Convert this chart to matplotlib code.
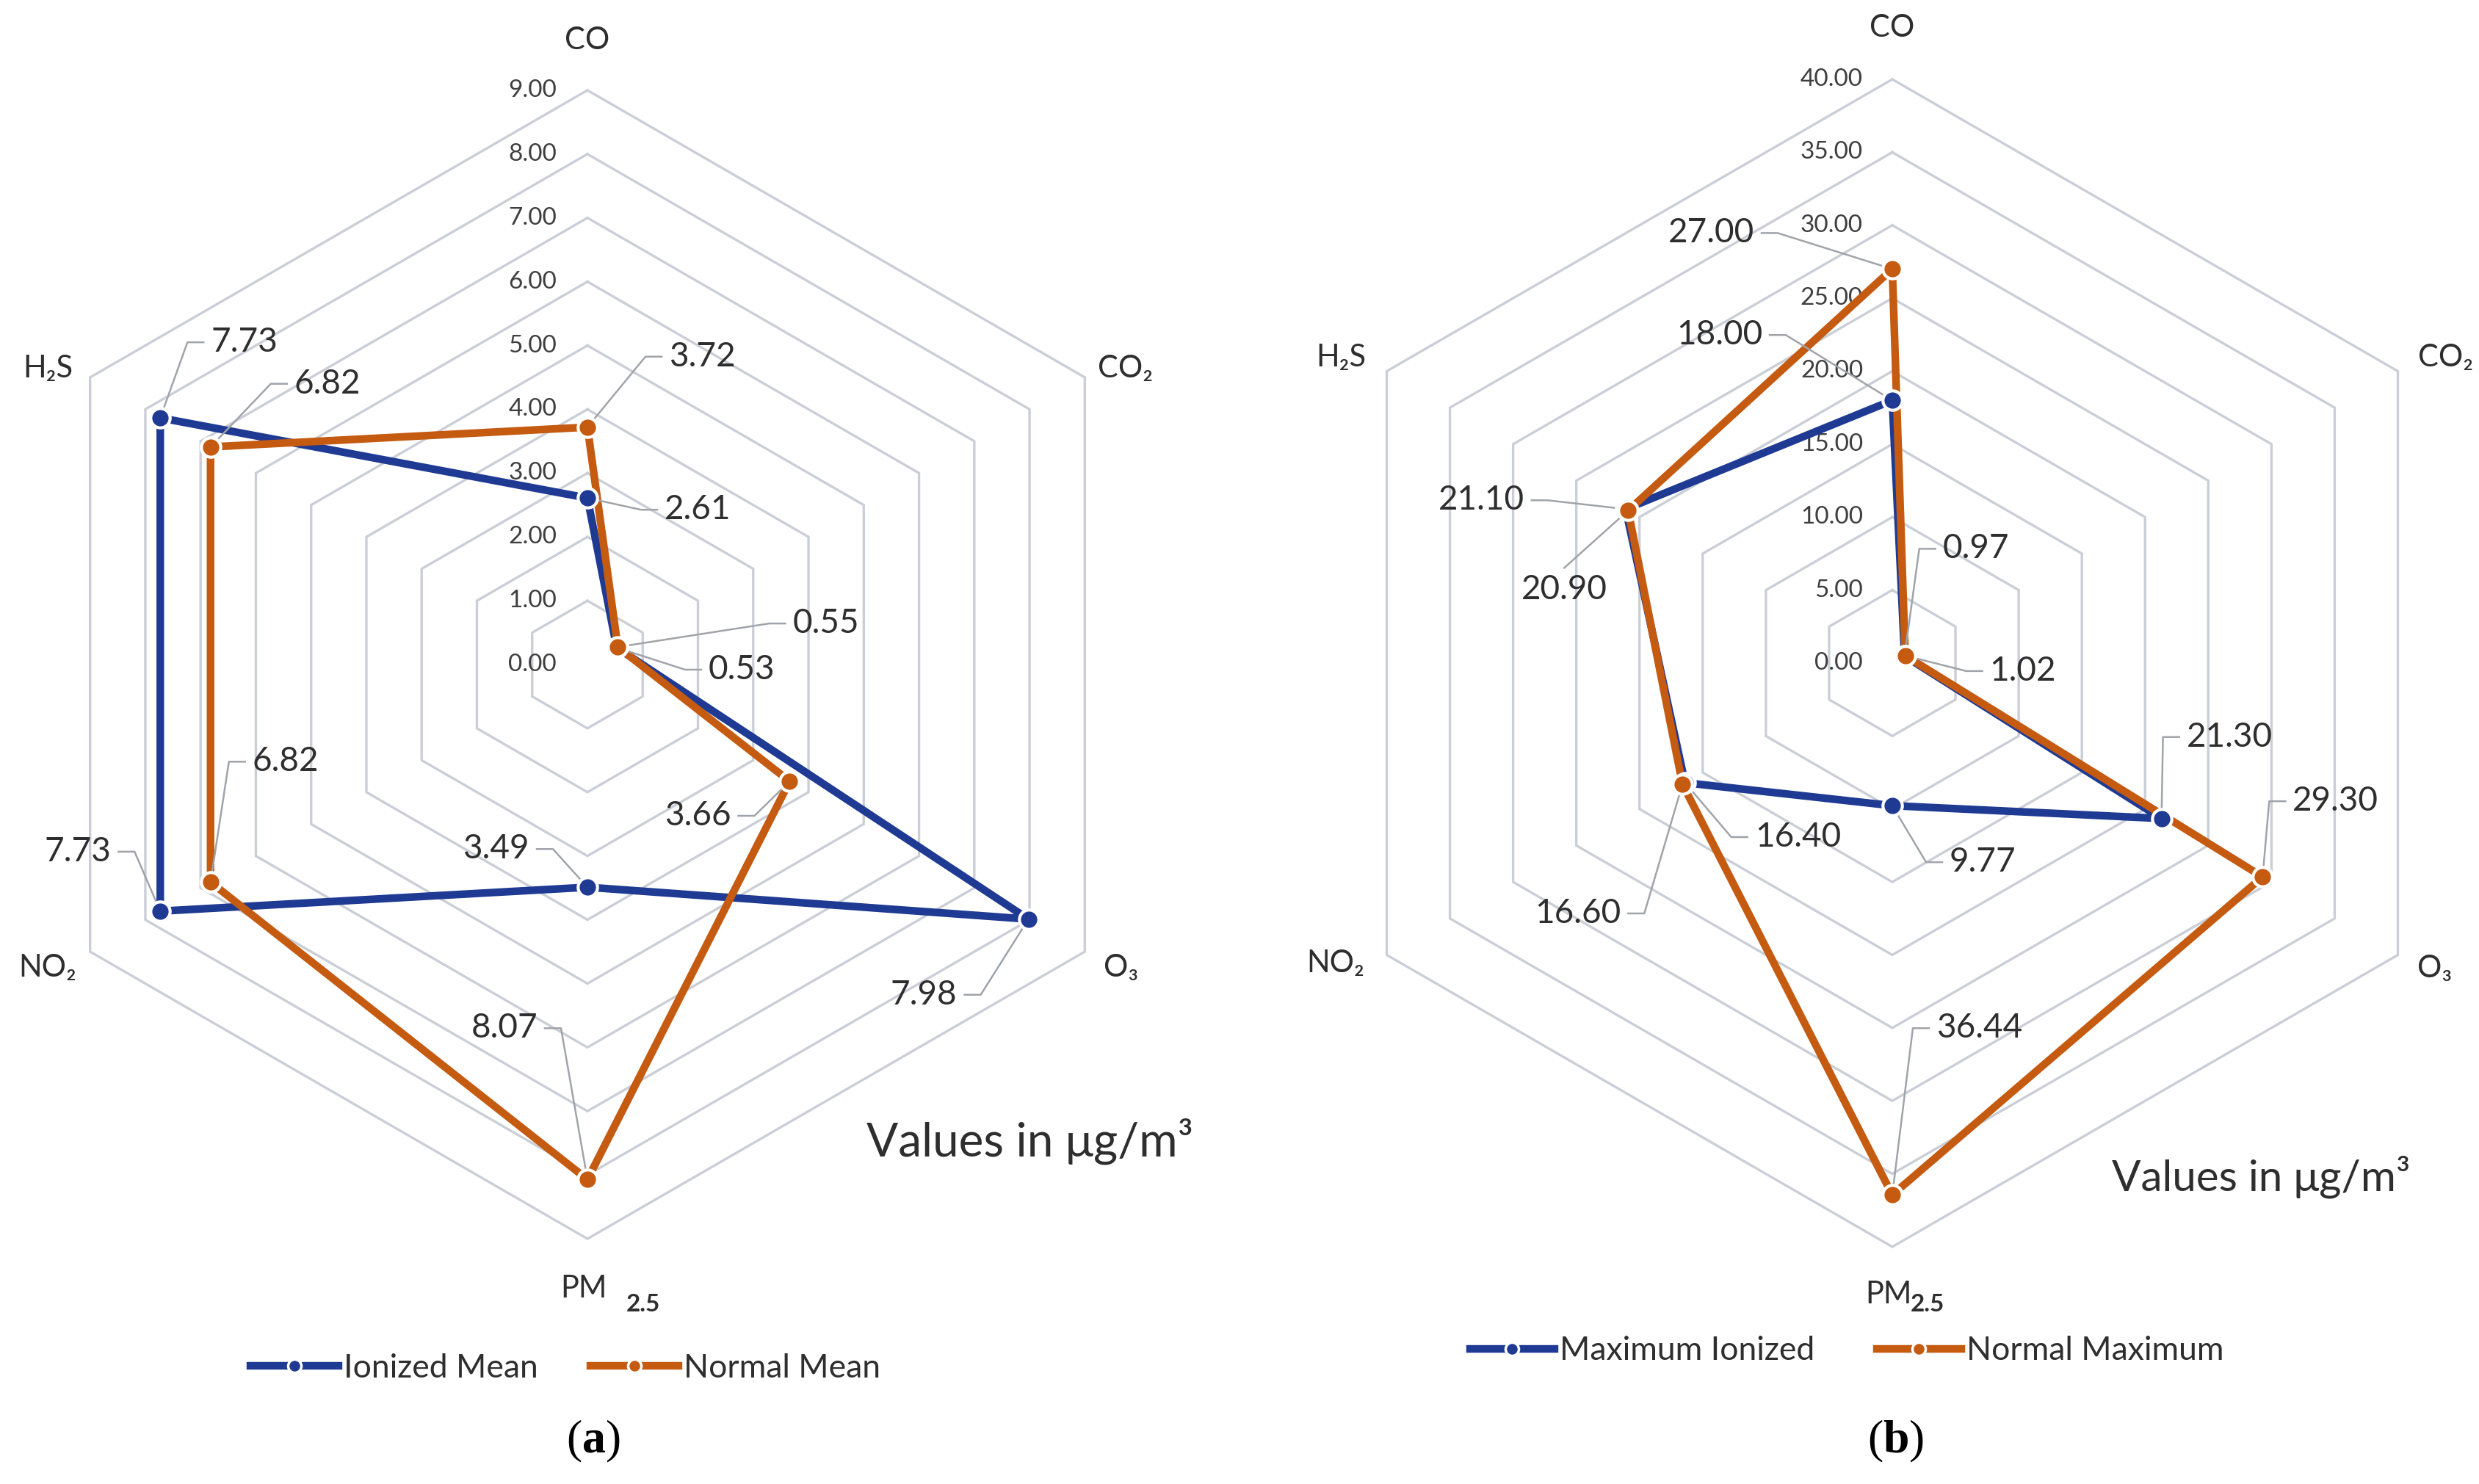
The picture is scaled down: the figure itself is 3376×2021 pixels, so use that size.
import numpy as np
import matplotlib
matplotlib.use("Agg")
import matplotlib.pyplot as plt
from matplotlib.lines import Line2D

# ---------------- data ----------------
categories = ["CO", "CO₂", "O₃", "PM", "NO₂", "H₂S"]   # clockwise from top
pm_sub = "2.5"
ticks_a = [0, 1, 2, 3, 4, 5, 6, 7, 8, 9]
ionized_mean = [2.61, 0.53, 7.98, 3.49, 7.73, 7.73]
normal_mean = [3.72, 0.55, 3.66, 8.07, 6.82, 6.82]
ticks_b = [0, 5, 10, 15, 20, 25, 30, 35, 40]
maximum_ionized = [18.00, 0.97, 21.30, 9.77, 16.40, 21.10]
normal_maximum = [27.00, 1.02, 29.30, 36.44, 16.60, 20.90]
legend_a = ["Ionized Mean", "Normal Mean"]
legend_b = ["Maximum Ionized", "Normal Maximum"]
unit_text = "Values in μg/m³"

# ---------------- style ----------------
W, H, DPI = 3376, 2021, 100
BLUE = "#1F3A93"
ORANGE = "#C55A11"
GRID = "#CACED6"
TXT = "#2E2E2E"
TICK = "#3F3F3F"
LEAD = "#A0A4AA"

plt.rcParams['font.family'] = ['Lato', 'DejaVu Sans']
plt.rcParams['mathtext.fontset'] = 'custom'
plt.rcParams['mathtext.rm'] = 'Liberation Serif'
plt.rcParams['mathtext.bf'] = 'Liberation Serif:bold'

fig = plt.figure(figsize=(W / DPI, H / DPI), dpi=DPI)
fig.patch.set_facecolor("white")

theta = np.arange(6) * np.pi / 3.0


def make_axes(x0, x1, cx, cy, unit):
    ax = fig.add_axes([x0 / W, 0, (x1 - x0) / W, 1])
    ax.set_xlim((x0 - cx) / unit, (x1 - cx) / unit)
    ax.set_ylim(-(H - cy) / unit, cy / unit)
    ax.axis('off')
    return ax


def draw_radar(ax, unit, ticks, series, colors, label_offsets, cat_offsets,
               pm_offsets, tick_dx):
    px = lambda p: p / unit
    # grid rings
    for t in ticks[1:]:
        xs = t * np.sin(np.append(theta, theta[0]))
        ys = t * np.cos(np.append(theta, theta[0]))
        ax.plot(xs, ys, color=GRID, lw=2.4, zorder=1, solid_joinstyle='miter')
    # tick labels
    for t in ticks:
        ax.text(px(tick_dx), t, f"{t:.2f}", ha='right', va='center',
                fontsize=24, color=TICK, zorder=2)
    # series
    for k, (vals, col) in enumerate(zip(series, colors)):
        v = np.array(vals)
        xs = v * np.sin(theta)
        ys = v * np.cos(theta)
        ax.plot(np.append(xs, xs[0]), np.append(ys, ys[0]), color=col, lw=7.5,
                solid_joinstyle='round', zorder=3 + k)
    for k, (vals, col) in enumerate(zip(series, colors)):
        v = np.array(vals)
        xs = v * np.sin(theta)
        ys = v * np.cos(theta)
        ax.plot(xs, ys, 'o', ms=19, mfc=col, mec='white', mew=3,
                zorder=10 + k, linestyle='none')
        # data labels with leader lines
        for i in range(6):
            dx, dy, ha = label_offsets[k][i]
            tx = xs[i] + px(dx)
            ty = ys[i] - px(dy)
            ax.text(tx, ty, f"{vals[i]:.2f}", ha=ha, va='center',
                    fontsize=33, color=TXT, zorder=12)
            if ha == 'left':
                ex, elx, ey = tx - px(10), tx - px(32), ty
            elif ha == 'right':
                ex, elx, ey = tx + px(10), tx + px(32), ty
            else:
                ex, elx, ey = tx, tx, ty + px(30)
            ax.plot([xs[i], elx, ex], [ys[i], ey, ey], color=LEAD, lw=1.8,
                    zorder=8)
    # category labels
    for i, name in enumerate(categories):
        if name == "PM":
            continue
        dx, dy = cat_offsets[i]
        ax.text(px(dx), -px(dy), name, ha='center', va='center',
                fontsize=30, color=TXT)
    (pmx, pmy), (sx, sy) = pm_offsets
    ax.text(px(pmx), -px(pmy), "PM", ha='right', va='center', fontsize=30,
            color=TXT)
    ax.text(px(sx), -px(sy), pm_sub, ha='left', va='center', fontsize=24,
            color=TXT, fontweight='bold')


# ---------------- left chart ----------------
cxa, cya, ua = 800, 905, 86.9
ax_a = make_axes(0, 1688, cxa, cya, ua)
offs_a = [
    [(105, 16, 'left'), (125, 30, 'left'), (-97, 103, 'right'),
     (-79, -52, 'right'), (-67, -81, 'right'), (69, -103, 'left')],
    [(111, -96, 'left'), (238, -32, 'left'), (-80, 47, 'right'),
     (-68, -206, 'right'), (57, -164, 'left'), (114, -86, 'left')],
]
cats_a = [(0, -850), (733, -403), (727, 413), (0, 850), (-735, 413), (-735, -403)]
draw_radar(ax_a, ua, ticks_a, [ionized_mean, normal_mean], [BLUE, ORANGE],
           offs_a, cats_a, ((27, 850), (53, 872)), -42)

# ---------------- right chart ----------------
cxb, cyb, ub = 2577, 903, 19.875
ax_b = make_axes(1688, 3376, cxb, cyb, ub)
offs_b = [
    [(-177, -89, 'right'), (52, -146, 'left'), (34, -111, 'left'),
     (78, 77, 'left'), (95, 74, 'left'), (-138, -12, 'right')],
    [(-188, -49, 'right'), (115, 21, 'left'), (41, -103, 'left'),
     (60, -227, 'left'), (-84, 176, 'right'), (-87, 108, 'center')],
]
cats_b = [(0, -865), (754, -416), (739, 416), (0, 860), (-758, 409), (-751, -416)]
draw_radar(ax_b, ub, ticks_b, [maximum_ionized, normal_maximum], [BLUE, ORANGE],
           offs_b, cats_b, ((27, 860), (25, 874)), -40)

# ---------------- unit texts ----------------
fig.text(1402 / W, 1 - 1554 / H, unit_text, ha='center', va='center',
         fontsize=46, color=TXT)
fig.text(3079 / W, 1 - 1603 / H, unit_text, ha='center', va='center',
         fontsize=42, color=TXT)

# ---------------- legends ----------------
def handles(colors):
    return [Line2D([], [], color=c, lw=7.5, marker='o', ms=13, mfc=c,
                   mec='white', mew=2.5) for c in colors]

fig.legend(handles([BLUE, ORANGE]), legend_a, loc='center',
           bbox_to_anchor=(770 / W, 1 - 1863 / H), ncol=2, frameon=False,
           fontsize=32, handlelength=2.7, handletextpad=0.15,
           columnspacing=1.6, labelcolor=TXT)
fig.legend(handles([BLUE, ORANGE]), legend_b, loc='center',
           bbox_to_anchor=(2515 / W, 1 - 1840 / H), ncol=2, frameon=False,
           fontsize=32, handlelength=2.6, handletextpad=0.15,
           columnspacing=1.9, labelcolor=TXT)

# ---------------- captions ----------------
fig.text(808 / W, 1 - 1963 / H, r"($\mathbf{a}$)", ha='center', va='center',
         fontsize=46, family='Liberation Serif', color='black')
fig.text(2582 / W, 1 - 1963 / H, r"($\mathbf{b}$)", ha='center', va='center',
         fontsize=46, family='Liberation Serif', color='black')

fig.savefig("out.png", dpi=DPI, facecolor='white')
